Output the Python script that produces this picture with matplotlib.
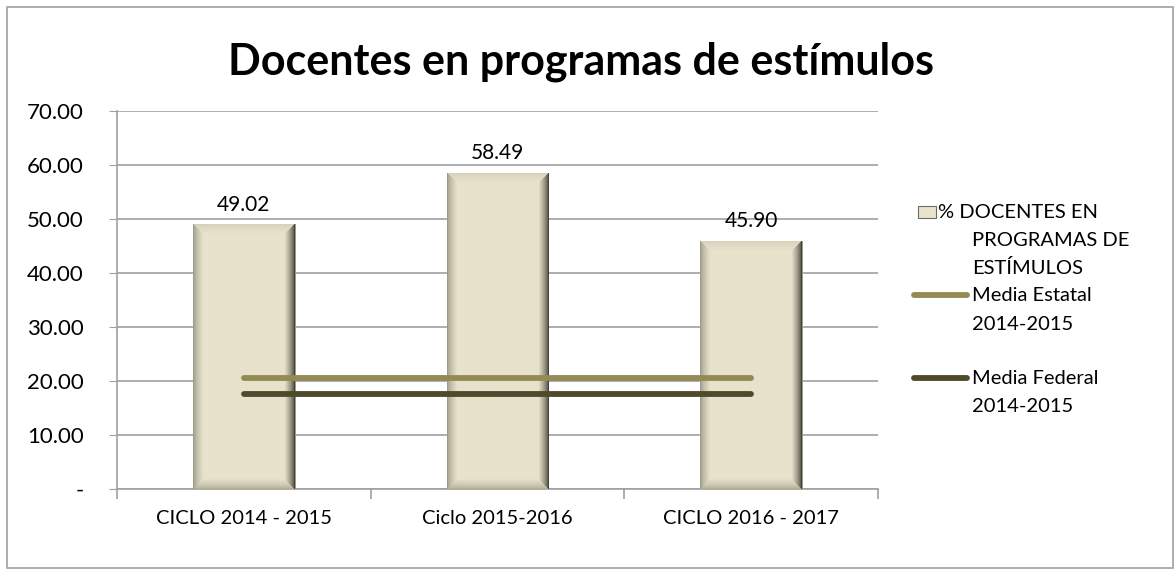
import numpy as np
import matplotlib
matplotlib.use("Agg")
import matplotlib.pyplot as plt
from matplotlib.patches import Rectangle
from matplotlib.lines import Line2D
from matplotlib.ticker import FuncFormatter, FixedLocator

plt.rcParams['font.family'] = ['Lato', 'DejaVu Sans']

# data
categories = ["CICLO 2014 - 2015", "Ciclo 2015-2016", "CICLO 2016 - 2017"]
docentes_pct = [49.02, 58.49, 45.90]
media_estatal = [20.5, 20.5, 20.5]
media_federal = [17.6, 17.6, 17.6]
y_ticks = [0, 10, 20, 30, 40, 50, 60, 70]

BAR_BASE = np.array([0.91, 0.89, 0.80])
ESTATAL_COLOR = "#948A54"
FEDERAL_COLOR = "#4F4A2C"
GRID_COLOR = "#A0A0A0"


def bevel_image(wpx, hpx, b=10):
    # simple bevel look: light face, grey left/bottom, dark right edge
    wpx, hpx = max(int(wpx), 2), max(int(hpx), 2)
    xs = np.arange(wpx)[None, :].repeat(hpx, 0)
    ys = np.arange(hpx)[:, None].repeat(wpx, 1)   # 0 = top row
    dl, dr = xs, wpx - 1 - xs
    dt, db = ys, hpx - 1 - ys
    d = np.stack([dl, dr, dt, db])
    side = d.argmin(0)
    dmin = d.min(0)
    edge_cols = np.array([[0.62, 0.61, 0.54],
                          [0.28, 0.27, 0.23],
                          [0.84, 0.82, 0.73],
                          [0.70, 0.68, 0.58]])
    t = np.clip(dmin / b, 0, 1)[..., None]
    t = t ** 0.7
    img = edge_cols[side] * (1 - t) + BAR_BASE * t
    return img


fig = plt.figure(figsize=(11.75, 5.7), dpi=100)
ax = fig.add_axes([117 / 1175, 1 - 489 / 570, (878 - 117) / 1175, (489 - 111) / 570])

x = np.arange(len(categories))
bars = ax.bar(x, docentes_pct, width=0.4, color=BAR_BASE, edgecolor="#8C8A7A",
              linewidth=0.6, zorder=3)
ax.set_xlim(-0.5, len(categories) - 0.5)
ax.set_ylim(0, 70)

# bevel shading clipped into each bar
px_per_x = (878 - 117) / 3.0
px_per_y = (489 - 111) / 70.0
for rect in bars:
    x0, w, h = rect.get_x(), rect.get_width(), rect.get_height()
    img = bevel_image(w * px_per_x, h * px_per_y)
    im = ax.imshow(img, extent=(x0, x0 + w, 0, h), aspect='auto', zorder=3.5,
                   interpolation='bilinear')
    im.set_clip_path(rect)
ax.set_xlim(-0.5, len(categories) - 0.5)
ax.set_ylim(0, 70)

ax.plot(x, media_estatal, color=ESTATAL_COLOR, lw=4.2, solid_capstyle='round', zorder=5)
ax.plot(x, media_federal, color=FEDERAL_COLOR, lw=4.2, solid_capstyle='round', zorder=5)

for xi, v in zip(x, docentes_pct):
    ax.annotate(f"{v:.2f}", (xi, v), xytext=(0, 7), textcoords='offset points',
                ha='center', va='bottom', fontsize=15, zorder=6)

# axes styling
ax.yaxis.set_major_locator(FixedLocator(y_ticks))
ax.yaxis.set_major_formatter(FuncFormatter(lambda v, p: "-" if v == 0 else f"{v:.2f}"))
ax.grid(axis='y', color=GRID_COLOR, lw=1.2, zorder=0)
ax.set_axisbelow(True)
for s in ['top', 'right']:
    ax.spines[s].set_visible(False)
for s in ['left', 'bottom']:
    ax.spines[s].set_color(GRID_COLOR)
    ax.spines[s].set_linewidth(1.2)
ax.tick_params(axis='y', length=6, color=GRID_COLOR, labelsize=16, pad=18)
ax.set_xticks(x)
ax.set_xticklabels(categories, fontsize=14.5)
ax.tick_params(axis='x', which='major', length=0, pad=15)
ax.set_xticks(np.arange(-0.5, len(categories)), minor=True)
ax.tick_params(axis='x', which='minor', length=7, color=GRID_COLOR, width=1.2)

fig.text(581 / 1175, 1 - 62 / 570, "Docentes en programas de estímulos",
         ha='center', va='center', fontsize=31, fontweight='bold')


# legend (drawn by hand to keep Excel's first-line alignment)
def fx(px):
    return px / 1175


def fy(py):
    return 1 - py / 570


leg_fs = 14.5
fig.add_artist(Rectangle((fx(918), fy(218)), fx(936) - fx(918), fy(206) - fy(218),
                         transform=fig.transFigure, facecolor=BAR_BASE,
                         edgecolor="#6E6C5E", lw=0.8))
fig.text(fx(938), fy(212), "% DOCENTES EN", va='center', ha='left', fontsize=leg_fs)
fig.text(fx(972), fy(240), "PROGRAMAS DE", va='center', ha='left', fontsize=leg_fs)
fig.text(fx(972), fy(268), "ESTÍMULOS", va='center', ha='left', fontsize=leg_fs)

for yy, col, lab in [(295, ESTATAL_COLOR, "Media Estatal"),
                     (378, FEDERAL_COLOR, "Media Federal")]:
    fig.add_artist(Line2D([fx(914), fx(967)], [fy(yy), fy(yy)], transform=fig.transFigure,
                          color=col, lw=4.2, solid_capstyle='round'))
    fig.text(fx(972), fy(yy), lab, va='center', ha='left', fontsize=leg_fs)
    fig.text(fx(972), fy(yy + 29), "2014-2015", va='center', ha='left', fontsize=leg_fs)

# chart area border
fig.add_artist(Rectangle((fx(7), fy(568)), fx(1173) - fx(7), fy(7) - fy(568),
                         transform=fig.transFigure, fill=False, edgecolor="#A0A0A0", lw=1.2))

fig.savefig("out.png", dpi=100)
